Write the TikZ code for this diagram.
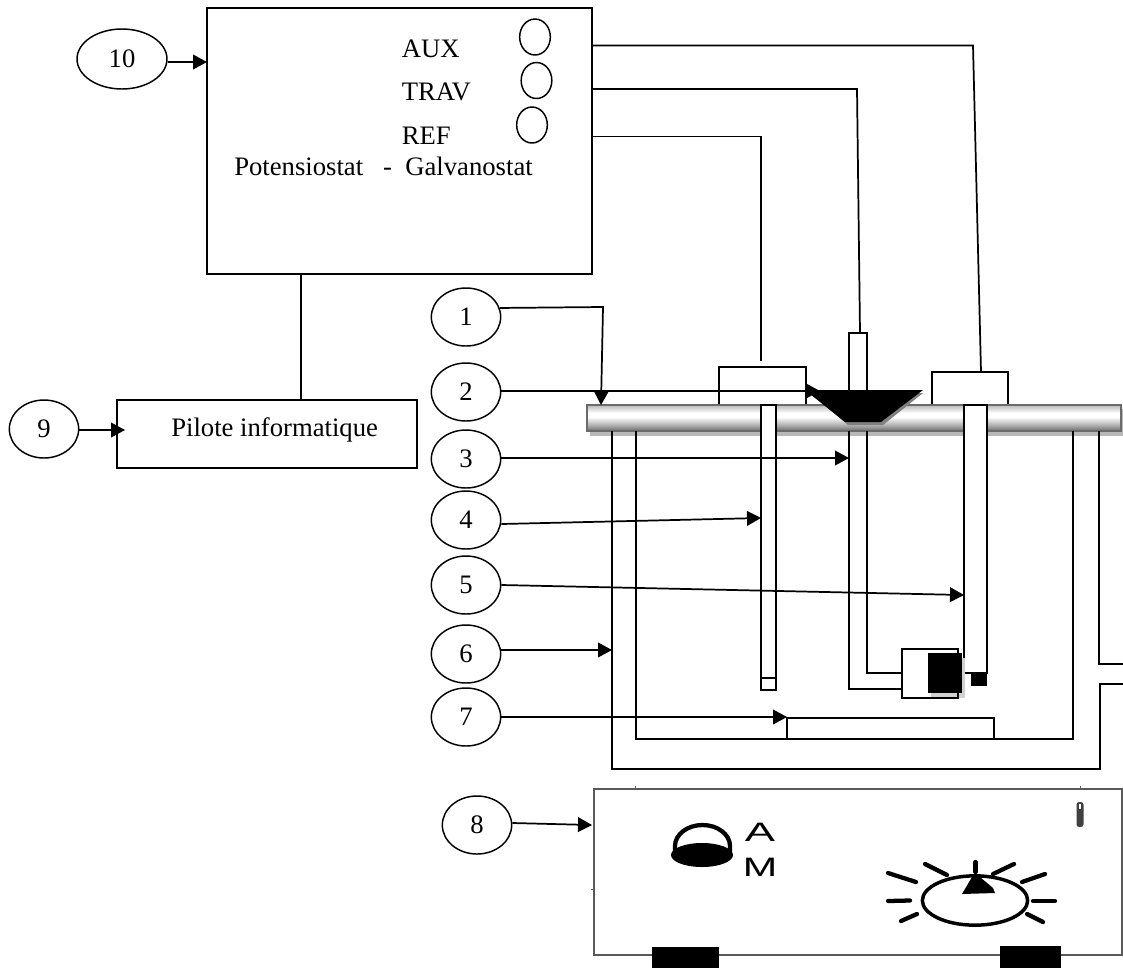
\documentclass[tikz,border=0pt]{standalone}
\usepackage{fontspec}
\setmainfont{Liberation Serif}
\newfontfamily\lamplabel{Liberation Sans}
\usetikzlibrary{arrows.meta,shapes.geometric,shadings}
\pgfdeclareverticalshading{barshade}{100bp}{color(0bp)=(black!58); color(25bp)=(black!58); color(36bp)=(black!32); color(52bp)=(white); color(60bp)=(white); color(75bp)=(black!28); color(100bp)=(black!28)}
\tikzset{
  x=0.75pt,y=-0.75pt,
  ln/.style={line width=1.3pt,draw=black,line cap=butt,line join=miter},
  arr/.style={ln,-{Triangle[length=10.5pt,width=11pt]}},
  tag/.style={ellipse,draw=black,line width=1.1pt,fill=white,inner sep=0pt,minimum width=52pt,minimum height=43.5pt,font=\fontsize{20}{22}\selectfont},
  jack/.style={ellipse,draw=black,line width=1.1pt,fill=white,inner sep=0pt,minimum width=23pt,minimum height=27pt},
  lbl/.style={inner sep=0pt,anchor=base west,font=\fontsize{20}{22}\selectfont},
  rbox/.style={rectangle,draw=black,line width=1.3pt,fill=white,inner sep=0pt,outer sep=0pt},
  solid box/.style={rectangle,fill=black,inner sep=0pt,outer sep=0pt},
  dialtick/.style={line width=3.2pt,line cap=round,draw=black},
}
% name, x1, y1, x2, y2, style
\newcommand{\pxbox}[6]{\node[#6,minimum width={(#4-#2)*0.75pt},minimum height={(#5-#3)*0.75pt}] (#1) at ({(#2+#4)/2},{(#3+#5)/2}) {};}
\newcommand{\tagnum}[1]{\raisebox{-3pt}{#1}\hspace{4pt}}
\begin{document}
\begin{tikzpicture}
\useasboundingbox (0,0) rectangle (1123,968);
\fill[white] (0,0) rectangle (1123,968);

% instrument
\pxbox{main}{207}{8}{592}{274}{rbox}
\node[tag,minimum width=67.5pt,minimum height=45pt] (t10) at (122,59) {\raisebox{-3pt}{10}};
\node[lbl] (laux) at (401.5,57) {AUX};
\node[lbl] (ltrav) at (401.5,100) {TRAV};
\node[lbl] (lref) at (401.5,144) {REF};
\node[lbl] (lpot) at (234,175) {Potensiostat\ \ \ -\ \ Galvanostat};
\node[jack] (jaux) at (535,37) {};
\node[jack] (jtrav) at (536.5,80.5) {};
\node[jack] (jref) at (532,125) {};
\pxbox{pilot}{117}{400}{417}{468}{rbox}
\node[lbl] (lpil) at (171,436) {Pilote informatique};
\node[tag] (t9) at (44,429) {\tagnum{9}};
\coordinate (m9) at (301,274);
\draw[ln] (m9) -- (m9 |- pilot.north);
\coordinate (a9) at (125,430);
\draw[arr] (t9.east |- a9) -- (a9);
\coordinate (a10) at (207,62);
\draw[arr] (t10.east |- a10) -- (a10);

% electrode caps sit on the cover
\pxbox{refcap}{719}{367}{806}{410}{rbox}
\pxbox{auxcap}{932}{372}{1008}{410}{rbox}

% cover bar
\fill[black!28] (590,409) rectangle (1124,436);
\shade[shading=barshade,draw=black!58,line width=1.5pt] (587,405) rectangle (1121,431);

% vessel walls
\coordinate (o1) at (612,431);
\coordinate (o2) at (612,769);
\coordinate (o3) at (1100,769);
\coordinate (o4) at (1100,684);
\coordinate (o5) at (1123,684);
\coordinate (i1) at (636,431);
\coordinate (i2) at (636,739);
\coordinate (i3) at (1073,739);
\coordinate (i4) at (1073,431);
\coordinate (r1) at (1099,431);
\coordinate (r2) at (1099,664);
\coordinate (r3) at (1123,664);
\draw[ln] (o1) -- (o2) -- (o3) -- (o4) -- (o5);
\draw[ln] (i1) -- (i2) -- (i3) -- (i4);
\draw[ln] (r1) -- (r2) -- (r3);
\pxbox{stir}{787}{718}{994}{739}{rbox}

% reference electrode
\pxbox{reftube}{761}{405}{776}{690}{rbox}
\coordinate (rl) at (761,678);
\coordinate (rr) at (776,678);
\draw[ln] (rl) -- (rr);

% counter electrode
\pxbox{auxtube}{964}{405}{987}{673}{rbox}
\pxbox{auxtip}{971}{673}{987}{686}{solid box}

% working electrode
\pxbox{workcap}{849}{333}{867}{392}{rbox}
\coordinate (wa) at (849,431);
\coordinate (wb) at (849,689);
\coordinate (wc) at (867,431);
\coordinate (wd) at (867,673);
\fill[black!18] (931,658) rectangle (965,698);
\pxbox{workhead}{902}{649}{958}{698}{rectangle,draw=black,line width=1.3pt,inner sep=0pt,outer sep=0pt}
\pxbox{worktip}{928}{653}{962}{693}{solid box}
\draw[ln] (wa) -- (wb) -- (wb -| workhead.west);
\draw[ln] (wc) -- (wd) -- (wd -| workhead.west);

% funnel
\fill[black!50] (810,393) -- (923,393) -- (883,425) -- (848,425) -- cycle;
\fill[black] (805,390) -- (923,390) -- (881,422) -- (845,422) -- cycle;

% wires
\coordinate (w1) at (592,45.5);
\coordinate (w1b) at (973,45.5);
\coordinate (w1c) at (981,372);
\coordinate (w2) at (592,89);
\coordinate (w2b) at (857,89);
\coordinate (w2c) at (860,333);
\coordinate (w3) at (592,136.5);
\coordinate (w3b) at (761,136.5);
\coordinate (w3c) at (761,361);
\draw[ln] (w1) -- (w1b) -- (w1c);
\draw[ln] (w2) -- (w2b) -- (w2c);
\draw[ln] (w3) -- (w3b) -- (w3c);

% hot plate
\pxbox{plate}{594}{789}{1122}{955}{rectangle,draw=black!65,line width=1.1pt,inner sep=0pt,outer sep=0pt}
\pxbox{footl}{652}{947}{719}{968}{solid box}
\pxbox{footr}{1000}{946}{1061}{968}{solid box}
\coordinate (tk1) at (635,786);
\coordinate (tk1b) at (635,789);
\coordinate (tk2) at (1080,786);
\coordinate (tk2b) at (1080,789);
\coordinate (tk3) at (591,889);
\coordinate (tk3b) at (594,889);
\draw[black!60,line width=0.5pt] (tk1) -- (tk1b) (tk2) -- (tk2b) (tk3) -- (tk3b);

% lamp
\draw[line width=3.2pt] (675,852) -- (675,846) arc[start angle=180,end angle=360,x radius=27.5,y radius=21] -- (730,852);
\node[ellipse,fill=black,inner sep=0pt,minimum width=46.5pt,minimum height=18pt] (lampbase) at (702,855) {};
\node[inner sep=0pt,xscale=1.7,font=\lamplabel\fontsize{20}{20}\selectfont] (lA) at (760,832.5) {A};
\node[inner sep=0pt,xscale=1.55,font=\lamplabel\fontsize{20}{20}\selectfont] (lM) at (760,867.5) {M};

% dial
\node[ellipse,draw=black,line width=2.6pt,inner sep=0pt,minimum width=79pt,minimum height=37pt] (dial) at (975,900.5) {};
\fill[black] (962,894) -- (972,877) -- (980,877) -- (993,888) -- (995,893) -- cycle;
\foreach \xa/\ya/\xb/\yb in {975.5/862/975.5/872, 925/864/947/875, 888/873/916/882, 888/901/910/900.5, 901/921/917/914, 993/874/1014/864, 1022/882/1045/874, 1033/901/1055/901, 1027/914/1043/922}
  \draw[dialtick] (\xa,\ya) -- (\xb,\yb);

% thermometer
\fill[black!75,rounded corners=2pt] (1076.5,802) rectangle (1083.5,827);
\fill[white] (1078.6,804) rectangle (1081.4,809);

% numbered tags
\node[tag] (t1) at (466,317) {\tagnum{1}};
\node[tag] (t2) at (466,392) {\tagnum{2}};
\node[tag] (t3) at (466,459) {\tagnum{3}};
\node[tag] (t4) at (466,520) {\tagnum{4}};
\node[tag] (t5) at (466,585) {\tagnum{5}};
\node[tag] (t6) at (466,654) {\tagnum{6}};
\node[tag] (t7) at (466,717) {\tagnum{7}};
\node[tag] (t8) at (477,825) {\tagnum{8}};

\coordinate (a1b) at (603,307);
\coordinate (a1c) at (601,405);
\draw[arr] (t1.15) -- (a1b) -- (a1c);
\coordinate (a2) at (820,391);
\draw[arr] (t2.east |- a2) -- (a2);
\coordinate (a3) at (849,458);
\draw[arr] (t3.east |- a3) -- (a3);
\coordinate (a4) at (761,518);
\draw[arr] (t4.east) ++(0,4) -- (a4);
\coordinate (a5) at (964,595);
\draw[arr] (t5.east) -- (a5);
\coordinate (a6) at (612,650);
\draw[arr] (t6.east |- a6) -- (a6);
\coordinate (a7) at (787,717);
\draw[arr] (t7.east) -- (a7);
\coordinate (a8) at (592,825);
\draw[arr] (t8.east) ++(0,-2) -- (a8);
\end{tikzpicture}
\end{document}
